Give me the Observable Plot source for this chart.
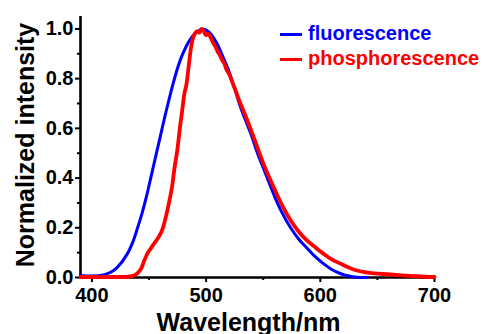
<!DOCTYPE html>
<html>
<head>
<meta charset="utf-8">
<script src="https://cdn.jsdelivr.net/npm/d3@7"></script>
<script src="https://cdn.jsdelivr.net/npm/@observablehq/plot@0.6"></script>
<style>
  html, body { margin: 0; padding: 0; background: white; }
  #wrap { position: relative; width: 485px; height: 334px; font-family: "Liberation Sans", Arial, sans-serif; }
  .lg-line { position: absolute; height: 3px; width: 22px; left: 280px; }
  .lg-text { position: absolute; left: 308px; font-size: 20px; font-weight: bold; line-height: 20px; white-space: nowrap; }
</style>
</head>
<body>
<div id="wrap"></div>
<script>
// Fluorescence spectrum (blue)
const fluoWavelength = [390,400,410,416,422,431,436,440,444,448,452,456,460,464,468,472,476,480,485,490,497,503,509,515,520,525,530,539,545,551,559,566,574,581,588,596,603,610,618,625,632,641];
const fluoIntensity  = [0.008,0.006,0.01,0.02,0.04,0.095,0.145,0.2,0.26,0.33,0.41,0.49,0.57,0.65,0.725,0.795,0.857,0.905,0.95,0.98,1.0,0.985,0.945,0.885,0.83,0.76,0.687,0.58,0.5,0.43,0.337,0.265,0.2,0.155,0.12,0.082,0.055,0.032,0.015,0.006,0.001,0.0];

// Phosphorescence spectrum (red)
const phosWavelength = [390,400,420,432,437,440,443,446,449,452,455,458,461,464,467,470,472,475,477,479,481,482.5,483.5,485,487,489,492,494,496,498,500,502,504,506,508,510,512,514,516,518,520,523,526,530,535,540,545,550,555,560,566,574,581,588,596,603,610,618,625,632,640,647,655,662,670,676,685,692,700];
const phosIntensity  = [0.002,0.002,0.002,0.003,0.008,0.018,0.035,0.07,0.1,0.12,0.14,0.16,0.185,0.23,0.29,0.36,0.43,0.52,0.6,0.67,0.74,0.77,0.8,0.86,0.93,0.97,0.99,0.985,1.0,0.99,0.975,0.98,0.965,0.945,0.93,0.91,0.895,0.875,0.86,0.835,0.82,0.785,0.75,0.70,0.645,0.585,0.522,0.46,0.405,0.355,0.295,0.23,0.185,0.15,0.12,0.095,0.073,0.055,0.04,0.028,0.021,0.017,0.014,0.012,0.009,0.007,0.005,0.003,0.002];

const xTicks = [400, 500, 600, 700];
const xMinorTicks = [450, 550, 650];
const yTicks = [0, 0.2, 0.4, 0.6, 0.8, 1.0];
const yMinorTicks = [0.1, 0.3, 0.5, 0.7, 0.9];

const seriesNames = ["fluorescence", "phosphorescence"];
const seriesColors = ["#0000ff", "#ff0000"];

const fluo = fluoWavelength.map((w, i) => ({w, v: fluoIntensity[i]}));
const phos = phosWavelength.map((w, i) => ({w, v: phosIntensity[i]}));

const font = "'Liberation Sans', Arial, sans-serif";

const chart = Plot.plot({
  width: 485,
  height: 334,
  marginLeft: 80,
  marginRight: 51,
  marginTop: 16,
  marginBottom: 57,
  x: {domain: [390, 700]},
  y: {domain: [0, 1.05]},
  style: {fontFamily: font, background: "white", overflow: "visible", color: "black"},
  marks: [
    Plot.axisY({ticks: yTicks, tickFormat: d3.format(".1f"), tickSize: 5, tickPadding: 2, fontSize: 20, fontWeight: "bold", strokeWidth: 2, label: null}),
    Plot.axisY({ticks: yMinorTicks, tickSize: 3, text: null, strokeWidth: 2, label: null}),
    Plot.axisX({ticks: xTicks, tickSize: 5, tickPadding: 5, fontSize: 20, fontWeight: "bold", strokeWidth: 2, label: null}),
    Plot.axisX({ticks: xMinorTicks, tickSize: 3, text: null, strokeWidth: 2, label: null}),
    Plot.ruleX([390], {strokeWidth: 2.6, stroke: "black"}),
    Plot.ruleY([0], {strokeWidth: 2.6, stroke: "black"}),
    Plot.line(fluo, {x: "w", y: "v", stroke: seriesColors[0], strokeWidth: 3, curve: "catmull-rom"}),
    Plot.line(phos, {x: "w", y: "v", stroke: seriesColors[1], strokeWidth: 3.8, curve: "catmull-rom"}),
    Plot.text(["Normalized intensity"], {frameAnchor: "left", textAnchor: "middle", rotate: -90, lineAnchor: "bottom", dx: -47, dy: -2, fontSize: 25, fontWeight: "bold", fill: "black"}),
    Plot.text(["Wavelength/nm"], {frameAnchor: "bottom", textAnchor: "middle", lineAnchor: "bottom", dx: -9, dy: 53, fontSize: 25, fontWeight: "bold", fill: "black"})
  ]
});

const wrap = document.getElementById("wrap");
wrap.appendChild(chart);

const legendTops = [23, 48];
seriesNames.forEach((name, i) => {
  const line = document.createElement("div");
  line.className = "lg-line";
  line.style.top = (legendTops[i] + 9.5) + "px";
  line.style.background = seriesColors[i];
  wrap.appendChild(line);
  const t = document.createElement("div");
  t.className = "lg-text";
  t.style.top = legendTops[i] + "px";
  t.style.color = seriesColors[i];
  t.textContent = name;
  wrap.appendChild(t);
});
</script>
</body>
</html>
